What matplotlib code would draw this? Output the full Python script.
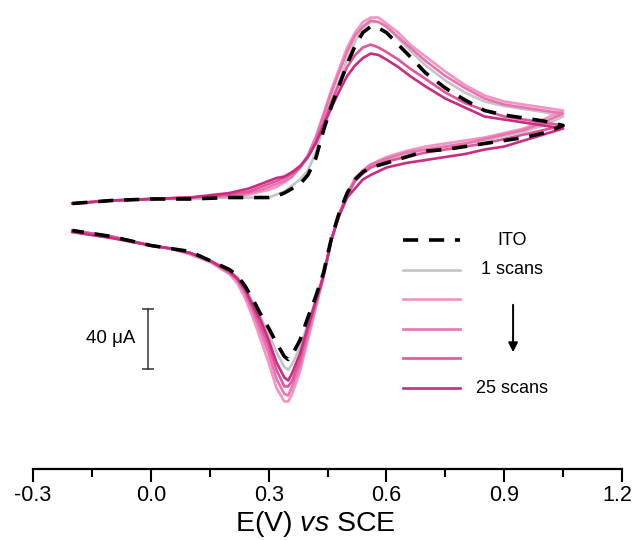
import matplotlib
matplotlib.use("Agg")
import matplotlib.pyplot as plt
import matplotlib.transforms as mtransforms

plt.rcParams["font.family"] = ["Liberation Sans", "DejaVu Sans"]
plt.rcParams["mathtext.fontset"] = "custom"
plt.rcParams["mathtext.rm"] = "Liberation Sans"
plt.rcParams["mathtext.it"] = "Liberation Sans:italic"

# potential grids (V vs SCE): forward (anodic) then reverse (cathodic) sweep
E_fwd = [-0.20, -0.10, 0.00, 0.10, 0.20, 0.25, 0.28, 0.30, 0.32, 0.34, 0.36,
         0.38, 0.40, 0.42, 0.44, 0.46, 0.48, 0.50, 0.52, 0.54, 0.56, 0.58,
         0.60, 0.63, 0.66, 0.70, 0.75, 0.80, 0.85, 0.90, 0.95, 1.00, 1.05]
E_rev = [1.00, 0.95, 0.90, 0.85, 0.80, 0.75, 0.70, 0.65, 0.60, 0.56, 0.54,
         0.52, 0.50, 0.48, 0.46, 0.44, 0.42, 0.40, 0.38, 0.36, 0.35, 0.34,
         0.32, 0.30, 0.28, 0.26, 0.24, 0.22, 0.20, 0.15, 0.10, 0.05, 0.00,
         -0.10, -0.20]

# currents (uA)
ito_fwd = [9, 11, 12, 12, 13, 13, 13, 13, 14, 16, 19, 22, 28, 39, 58, 74, 88,
           102, 114, 123, 127, 126, 123, 115, 107, 96, 86, 78, 71, 68, 66, 64, 61]
ito_rev = [56, 53, 51, 49, 47, 45, 44, 40, 36, 33, 30, 25, 16, 3, -14, -37,
           -53, -67, -82, -92, -95, -93, -84, -74, -65, -55, -46, -39, -35,
           -29, -23, -21, -19, -13, -9]
s1_fwd = [9, 11, 12, 12, 13, 13, 13, 13, 15, 17, 21, 25, 31, 43, 61, 77, 91,
          105, 117, 126, 130, 130, 127, 119, 111, 101, 91, 83, 77, 74, 72, 70, 67]
s1_rev = [61, 57, 54, 51, 49, 47, 45, 42, 38, 33, 30, 25, 15, 2, -15, -38,
          -55, -71, -87, -98, -102, -100, -90, -78, -67, -57, -47, -40, -36,
          -29, -24, -21, -19, -13, -9]
sa_fwd = [9, 11, 12, 13, 14, 15, 17, 18, 20, 23, 27, 33, 41, 53, 69, 85, 99,
          113, 123, 130, 133, 133, 129, 123, 115, 107, 97, 88, 81, 77, 75, 73, 71]
sa_rev = [65, 59, 56, 53, 51, 49, 47, 44, 40, 35, 31, 26, 15, 2, -15, -40,
          -61, -82, -103, -118, -123, -123, -114, -97, -82, -67, -54, -44,
          -38, -30, -25, -21, -19, -14, -10]
sb_fwd = [9, 11, 12, 13, 14, 16, 18, 20, 22, 24, 27, 33, 41, 53, 68, 83, 97,
          110, 121, 127, 131, 130, 127, 120, 113, 104, 94, 86, 79, 75, 73, 71, 69]
sb_rev = [63, 58, 55, 52, 49, 47, 45, 43, 39, 35, 31, 25, 15, 2, -15, -39,
          -59, -79, -99, -113, -119, -118, -108, -91, -77, -63, -51, -42,
          -37, -29, -24, -21, -19, -13, -9]
sc_fwd = [9, 11, 12, 13, 15, 17, 20, 22, 24, 26, 29, 33, 40, 50, 63, 77, 89,
          100, 108, 113, 115, 113, 110, 105, 99, 92, 83, 76, 71, 67, 65, 63, 61]
sc_rev = [58, 55, 52, 49, 47, 45, 43, 40, 37, 33, 29, 24, 14, 2, -15, -39,
          -57, -75, -95, -109, -113, -113, -102, -86, -73, -61, -49, -41,
          -37, -29, -24, -21, -19, -13, -9]
s25_fwd = [9, 11, 12, 13, 16, 19, 22, 24, 26, 27, 30, 34, 40, 49, 61, 73, 84,
           94, 101, 106, 109, 108, 105, 100, 94, 87, 79, 73, 67, 65, 63, 61, 59]
s25_rev = [55, 51, 47, 45, 42, 40, 38, 36, 33, 28, 25, 19, 13, 1, -15, -39,
           -56, -73, -91, -104, -109, -107, -97, -82, -69, -59, -48, -41, -36,
           -29, -24, -21, -19, -14, -10]

labels = ["ITO", "1 scans", "", "", "", "25 scans"]
xticks = [-0.3, 0.0, 0.3, 0.6, 0.9, 1.2]
scale_uA = 40

fig = plt.figure(figsize=(6.35, 5.4), dpi=100)
ax = fig.add_axes([0.052, 0.1324, 0.9276, 0.8676])

E = E_fwd + E_rev
pink = [("#f294c4", sa_fwd + sa_rev), ("#ea74b0", sb_fwd + sb_rev),
        ("#e0559c", sc_fwd + sc_rev), ("#c92c80", s25_fwd + s25_rev)]
h_gray, = ax.plot(E, s1_fwd + s1_rev, color="#c4c4c4", lw=1.9)
h_pink = []
for c, i in pink:
    h, = ax.plot(E, i, color=c, lw=1.9)
    h_pink.append(h)
h_ito, = ax.plot(E, ito_fwd + ito_rev, color="black", lw=2.6,
                 dashes=(4.2, 3.0))

ax.set_xlim(-0.3, 1.2)
ax.set_ylim(-167.7, 144.7)
for s in ["left", "right", "top"]:
    ax.spines[s].set_visible(False)
ax.spines["bottom"].set_linewidth(1.6)
ax.set_yticks([])
ax.set_xticks(xticks)
ax.set_xticklabels([f"{t:.1f}" for t in xticks])
ax.set_xticks([t + 0.15 for t in xticks[:-1]], minor=True)
ax.tick_params(axis="x", which="major", direction="out", length=9.5,
               width=1.5, labelsize=15.5, pad=2.5)
ax.tick_params(axis="x", which="minor", direction="out", length=5.5, width=1.5)
# keep the last tick label inside the canvas
last = ax.get_xticklabels()[-1]
last.set_transform(last.get_transform() +
                   mtransforms.ScaledTranslation(-5 / 100, 0, fig.dpi_scale_trans))
ax.set_xlabel(r"E(V) $\it{vs}$ SCE", fontsize=20.5)
ax.xaxis.set_label_coords(0.48, -0.086)

# legend (handles only, labels centred separately)
handles = [h_ito, h_gray] + h_pink
leg = ax.legend(handles, [" "] * 6, loc="upper left",
                bbox_to_anchor=(0.628, 0.501), frameon=False, fontsize=13,
                handlelength=3.15, handletextpad=0.0, borderpad=0,
                borderaxespad=0, labelspacing=0.69)
row_y = [0.4856, 0.4237, 0.3618, 0.2977, 0.2358, 0.1718]
for lab, y in zip(labels, row_y):
    if lab:
        ax.text(0.813, y, lab, transform=ax.transAxes, ha="center",
                va="center", fontsize=13)
ax.annotate("", xy=(0.815, 0.2423), xytext=(0.815, 0.3554),
            xycoords="axes fraction",
            arrowprops=dict(arrowstyle="-|>", color="black", lw=1.4,
                            mutation_scale=14))

# current scale bar
trans = mtransforms.blended_transform_factory(ax.transAxes, ax.transData)
ax.plot([0.1952, 0.1952], [-101.3, -101.3 + scale_uA], color="#333333",
        lw=1.1, marker="_", ms=8, mew=1.1, transform=trans, clip_on=False)
ax.text(0.173, -101.3 + scale_uA / 2, f"{scale_uA} \u03bcA", transform=trans,
        ha="right", va="center", fontsize=13.5)

fig.savefig("out.png", dpi=100)
